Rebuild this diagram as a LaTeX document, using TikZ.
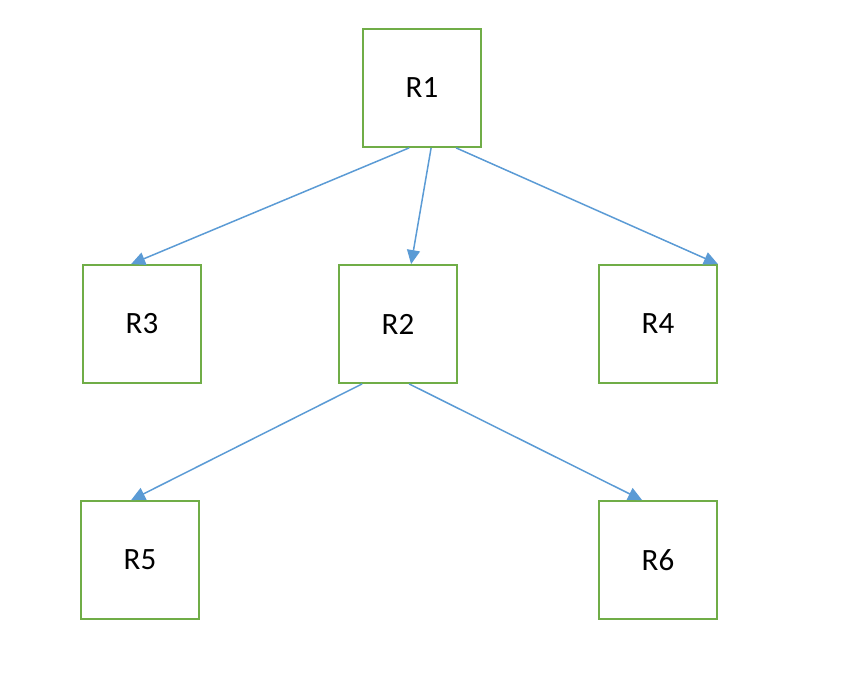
\documentclass[tikz,border=0pt]{standalone}
\usepackage{fontspec}
\setmainfont{Carlito}
\usetikzlibrary{arrows.meta,calc}
\begin{document}
\begin{tikzpicture}[x=1pt,y=-1pt,
  rbox/.style={draw=boxgreen,line width=1.8pt,minimum width=118pt,minimum height=118pt,inner sep=0pt,font=\fontsize{31}{36}\selectfont},
  conn/.style={draw=arrowblue,line width=1.5pt,-{Triangle[length=14pt,width=13pt]}}]
\definecolor{boxgreen}{HTML}{70AD47}
\definecolor{arrowblue}{HTML}{5B9BD5}
\useasboundingbox (0,0) rectangle (866,682);
\node[rbox] (R1) at (422,88) {R1};
\node[rbox] (R3) at (142,324) {R3};
\node[rbox] (R2) at (398,324) {R2};
\node[rbox] (R4) at (658,324) {R4};
\node[rbox] (R5) at (140,560) {R5};
\node[rbox] (R6) at (658,560) {R6};
\coordinate (a1) at ($(R1.south west)+(47,0)$);
\coordinate (a2) at ($(R1.south west)+(69,0)$);
\coordinate (a3) at ($(R1.south west)+(94,0)$);
\coordinate (b3) at ($(R3.north west)+(49,0)$);
\coordinate (b2) at ($(R2.north west)+(73,0)$);
\coordinate (c1) at ($(R2.south west)+(24,0)$);
\coordinate (c2) at ($(R2.south west)+(71,0)$);
\coordinate (d5) at ($(R5.north west)+(51,0)$);
\coordinate (d6) at ($(R6.north west)+(44,0)$);
\draw[conn] (a1) -- (b3);
\draw[conn] (a2) -- (b2);
\draw[conn] (a3) -- (R4.north east);
\draw[conn] (c1) -- (d5);
\draw[conn] (c2) -- (d6);
\end{tikzpicture}
\end{document}
